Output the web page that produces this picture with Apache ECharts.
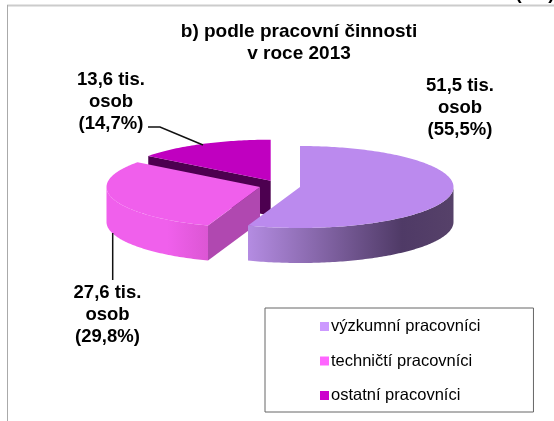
<!DOCTYPE html>
<html><head><meta charset="utf-8">
<style>html,body{margin:0;padding:0;background:#fff}#c{width:554px;height:421px}</style>
<script src="https://cdn.jsdelivr.net/npm/echarts@6/dist/echarts.min.js"></script>
</head><body><div id="c"></div>
<script>
const categories = ['výzkumní pracovníci', 'techničtí pracovníci', 'ostatní pracovníci'];
const personsThousands = [51.5, 27.6, 13.6];
const percentShares = [55.5, 29.8, 14.7];
const legendColors = ['#cc99ff', '#ff66ff', '#cc00cc'];
const topColors = ['#bb8aee', '#f05fec', '#c000c0'];
const cutColors = ['#4d3a63', '#b048b0', '#4d0050'];
const rimStops = [
  [[0, '#b48ce2'], [0.75, '#4f3a66'], [1, '#564169']],
  [[0, '#f060ec'], [0.6, '#f060ec'], [1, '#dc56d4']],
  [[0, '#c000c0'], [1, '#c000c0']]
];
const titleLines = 'b) podle pracovní činnosti\nv roce 2013';
const clippedNote = '(tis.)';
const fmt = v => String(v.toFixed(1)).replace('.', ',');

const RX = 153.5, RY = 41, DEPTH = 35;
const centers = [[300, 187], [260, 187], [270.7, 180.7]];
const labelPos = [[460, 107.5], [107.5, 315], [111, 102]];
const leaders = [
  null,
  [[112.7, 233], [112.7, 280]],
  [[148, 127], [160, 127], [203, 145]]
];

function pt(c, deg, dy) {
  const t = deg * Math.PI / 180;
  return [c[0] + RX * Math.sin(t), c[1] - RY * Math.cos(t) + (dy || 0)];
}
function arc(c, a, b, dy) {
  const out = [];
  const n = Math.max(2, Math.ceil(Math.abs(b - a)));
  for (let i = 0; i <= n; i++) out.push(pt(c, a + (b - a) * i / n, dy));
  return out;
}
const starts = percentShares.map((p, i) => percentShares.slice(0, i).reduce((s, v) => s + v, 0) * 3.6);

function sliceRender(idx) {
  return function () {
    const c = centers[idx], a = starts[idx], b = a + percentShares[idx] * 3.6;
    const kids = [];
    if (idx > 0) {
      const p = pt(c, a);
      kids.push({ type: 'polygon', shape: { points: [c, p, [p[0], p[1] + DEPTH], [c[0], c[1] + DEPTH]] },
        style: { fill: cutColors[idx] } });
    }
    const ra = Math.max(a, 90), rb = Math.min(b, 270);
    if (rb > ra) {
      const top = arc(c, ra, rb), bot = arc(c, rb, ra, DEPTH);
      kids.push({ type: 'polygon', shape: { points: top.concat(bot) },
        style: { fill: new echarts.graphic.LinearGradient(0, 0, 1, 0, rimStops[idx].map(s => ({ offset: s[0], color: s[1] }))) } });
    }
    kids.push({ type: 'polygon', shape: { points: [c].concat(arc(c, a, b)) }, style: { fill: topColors[idx] } });
    if (leaders[idx]) kids.push({ type: 'polyline', shape: { points: leaders[idx] }, style: { stroke: '#111', lineWidth: 1.5, fill: null } });
    kids.push({ type: 'text', x: labelPos[idx][0], y: labelPos[idx][1], style: {
      text: fmt(personsThousands[idx]) + ' tis.\nosob\n(' + fmt(percentShares[idx]) + '%)',
      font: 'bold 18.5px "Liberation Sans"', lineHeight: 22, align: 'center', verticalAlign: 'middle', fill: '#000' } });
    return { type: 'group', children: kids };
  };
}

const chart = echarts.init(document.getElementById('c'), null, { renderer: 'canvas' });
chart.setOption({
  animation: false,
  backgroundColor: '#fff',
  title: { text: titleLines, left: 294, top: 16, textAlign: 'center',
    textStyle: { fontFamily: 'Liberation Sans', fontWeight: 'bold', fontSize: 19, lineHeight: 22, color: '#000' } },
  legend: {
    orient: 'vertical', left: 265, top: 308, itemWidth: 9, itemHeight: 9, itemGap: 17.5, icon: 'rect',
    padding: [10, 53, 8, 55], borderColor: '#666', borderWidth: 1, backgroundColor: '#fff',
    selectedMode: false,
    textStyle: { fontFamily: 'Liberation Sans', fontSize: 16.5, lineHeight: 17, color: '#000', padding: [0, 0, 0, -3] },
    data: categories.map((n, i) => ({ name: n, itemStyle: { color: legendColors[i] } }))
  },
  graphic: [
    { type: 'line', shape: { x1: 7, y1: 5.5, x2: 554, y2: 5.5 }, style: { stroke: '#cccccc', lineWidth: 2 }, silent: true },
    { type: 'line', shape: { x1: 7.5, y1: 5, x2: 7.5, y2: 421 }, style: { stroke: '#aaaaaa', lineWidth: 1 }, silent: true },
    { type: 'text', x: 535, y: 3.5, style: { text: clippedNote, font: 'bold 18.5px "Liberation Sans"', align: 'center', verticalAlign: 'bottom', fill: '#000' }, silent: true }
  ],
  series: [2, 1, 0].map(i => ({
    type: 'custom', name: categories[i], coordinateSystem: 'none', silent: true,
    itemStyle: { color: legendColors[i] },
    data: [personsThousands[i]],
    renderItem: sliceRender(i)
  }))
});
</script></body></html>
